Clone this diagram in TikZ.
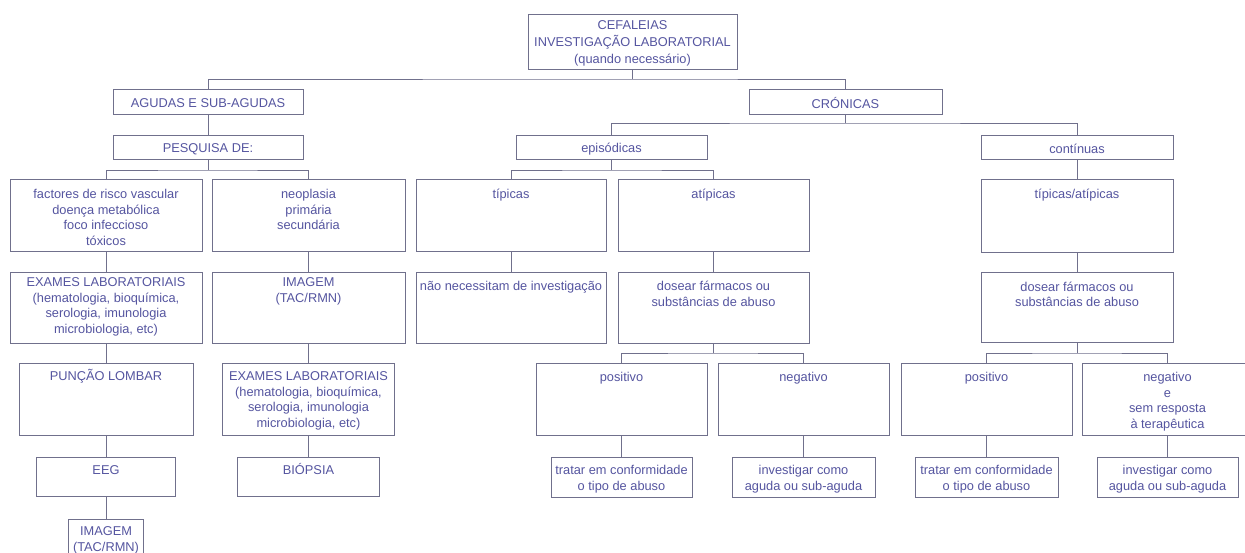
\documentclass[tikz,border=0pt]{standalone}
\usepackage{fontspec}
\setmainfont{Liberation Sans}
\definecolor{linec}{RGB}{112,112,140}
\definecolor{textc}{RGB}{85,85,160}
\begin{document}
\begin{tikzpicture}[x=1pt,y=-1pt,
  bx/.style={draw=linec, line width=0.9pt, inner sep=0pt},
  lbl/.style={anchor=north, inner sep=0pt, yshift=-8pt, text=textc,
    font=\fontsize{12.8}{15.6}\selectfont, align=center},
  ctr/.style={anchor=center, inner sep=0pt, yshift=-2pt, text=textc,
    font=\fontsize{12.8}{15.6}\selectfont, align=center},
  ln/.style={draw=linec, line width=0.9pt}]
\fill[white] (0,0) rectangle (1245,553);
\useasboundingbox (0,0) rectangle (1245,553);
\clip (0,0) rectangle (1245,553);

% ---------- boxes ----------
\node[bx, minimum width=209pt, minimum height=55pt] (top) at (632.5,41.5) {};
\node[bx, minimum width=190pt, minimum height=25pt] (agudas) at (208,101.5) {};
\node[bx, minimum width=190pt, minimum height=24pt] (pesq) at (208,147) {};
\node[bx, minimum width=192pt, minimum height=72pt] (fact) at (106,215) {};
\node[bx, minimum width=193pt, minimum height=72pt] (neo) at (308.5,215) {};
\node[bx, minimum width=192pt, minimum height=71pt] (exA) at (106,307.5) {};
\node[bx, minimum width=193pt, minimum height=71pt] (img1) at (308.5,307.5) {};
\node[bx, minimum width=174pt, minimum height=72pt] (pun) at (106,399) {};
\node[bx, minimum width=172pt, minimum height=72pt] (exB) at (308.5,399) {};
\node[bx, minimum width=139pt, minimum height=39pt] (eeg) at (106,476.5) {};
\node[bx, minimum width=142pt, minimum height=39pt] (bio) at (308.5,476.5) {};
\node[bx, minimum width=75pt, minimum height=52pt] (img2) at (106,545) {};

\node[bx, minimum width=193pt, minimum height=25pt] (cron) at (845.5,101.5) {};
\node[bx, minimum width=191pt, minimum height=24pt] (epi) at (611.5,147) {};
\node[bx, minimum width=192pt, minimum height=24pt] (cont) at (1077,147) {};
\node[bx, minimum width=190pt, minimum height=72pt] (tip) at (511,215) {};
\node[bx, minimum width=191pt, minimum height=72pt] (atip) at (713.5,215) {};
\node[bx, minimum width=192pt, minimum height=73pt] (ta) at (1077,215.5) {};
\node[bx, minimum width=190pt, minimum height=71pt] (nao) at (511,307.5) {};
\node[bx, minimum width=191pt, minimum height=71pt] (dos1) at (713.5,307.5) {};
\node[bx, minimum width=192pt, minimum height=70pt] (dos2) at (1077,307.5) {};
\node[bx, minimum width=171pt, minimum height=72pt] (pos1) at (621.5,399) {};
\node[bx, minimum width=171pt, minimum height=72pt] (neg1) at (803.5,399) {};
\node[bx, minimum width=171pt, minimum height=72pt] (pos2) at (986.5,399) {};
\node[bx, minimum width=171pt, minimum height=72pt] (neg2) at (1167.5,399) {};
\node[bx, minimum width=141pt, minimum height=40pt] (tr1) at (621.5,477) {};
\node[bx, minimum width=143pt, minimum height=40pt] (inv1) at (803.5,477) {};
\node[bx, minimum width=143pt, minimum height=40pt] (tr2) at (986.5,477) {};
\node[bx, minimum width=141pt, minimum height=40pt] (inv2) at (1167.5,477) {};

% ---------- centred texts ----------
\node[ctr, font=\fontsize{12.8}{17}\selectfont] (topT) at (top.center)
  {CEFALEIAS\\INVESTIGAÇÃO LABORATORIAL\\(quando necessário)};
\node[ctr] (agudasT) at (agudas.center) {AGUDAS E SUB-AGUDAS};
\node[ctr] (pesqT) at (pesq.center) {PESQUISA DE:};
\node[ctr] (cronT) at (cron.center) {CRÓNICAS};
\node[ctr] (epiT) at (epi.center) {episódicas};
\node[ctr] (contT) at (cont.center) {contínuas};
\node[ctr] (tr1T) at (tr1.center) {tratar em conformidade\\o tipo de abuso};
\node[ctr] (inv1T) at (inv1.center) {investigar como\\aguda ou sub-aguda};
\node[ctr] (tr2T) at (tr2.center) {tratar em conformidade\\o tipo de abuso};
\node[ctr] (inv2T) at (inv2.center) {investigar como\\aguda ou sub-aguda};

% ---------- top-aligned texts ----------
\node[lbl, yshift=-1pt] (factT) at (fact.north) {\strut factores de risco vascular\\doença metabólica\\foco infeccioso\\tóxicos};
\node[lbl, yshift=-1pt] (neoT) at (neo.north) {\strut neoplasia\\primária\\secundária};
\node[lbl, yshift=4pt] (exAT) at (exA.north) {\strut EXAMES LABORATORIAIS\\(hematologia, bioquímica,\\serologia, imunologia\\microbiologia, etc)};
\node[lbl, yshift=4pt] (img1T) at (img1.north) {\strut IMAGEM\\(TAC/RMN)};
\node[lbl, yshift=1pt] (punT) at (pun.north) {\strut PUNÇÃO LOMBAR};
\node[lbl, yshift=1pt] (exBT) at (exB.north) {\strut EXAMES LABORATORIAIS\\(hematologia, bioquímica,\\serologia, imunologia\\microbiologia, etc)};
\node[lbl, yshift=1pt] (eegT) at (eeg.north) {\strut EEG};
\node[lbl, yshift=1pt] (bioT) at (bio.north) {\strut BIÓPSIA};
\node[lbl, yshift=2pt] (img2T) at (img2.north) {\strut IMAGEM\\(TAC/RMN)};
\node[lbl, yshift=-1pt] (tipT) at (tip.north) {\strut típicas};
\node[lbl, yshift=-1pt] (atipT) at (atip.north) {\strut atípicas};
\node[lbl, yshift=-1pt] (taT) at (ta.north) {\strut típicas/atípicas};
\node[lbl] (naoT) at (nao.north) {\strut não necessitam de investigação};
\node[lbl] (dos1T) at (dos1.north) {\strut dosear fármacos ou\\substâncias de abuso};
\node[lbl] (dos2T) at (dos2.north) {\strut dosear fármacos ou\\substâncias de abuso};
\node[lbl] (pos1T) at (pos1.north) {\strut positivo};
\node[lbl] (neg1T) at (neg1.north) {\strut negativo};
\node[lbl] (pos2T) at (pos2.north) {\strut positivo};
\node[lbl] (neg2T) at (neg2.north) {\strut negativo\\e\\sem resposta\\à terapêutica};

% ---------- connectors ----------
\coordinate (j0) at (632.5,79);
\draw[ln] (top.south) -- (j0);
\draw[ln] (agudas.north) |- (j0) -| (cron.north);
\draw[ln] (agudas.south) -- (pesq.north);
\coordinate (j1) at (208,170);
\draw[ln] (pesq.south) -- (j1);
\draw[ln] (fact.north) |- (j1) -| (neo.north);
\draw[ln] (fact.south) -- (exA.north);
\draw[ln] (exA.south) -- (pun.north);
\draw[ln] (pun.south) -- (eeg.north);
\draw[ln] (eeg.south) -- (img2.north);
\draw[ln] (neo.south) -- (img1.north);
\draw[ln] (img1.south) -- (exB.north);
\draw[ln] (exB.south) -- (bio.north);

\coordinate (j2) at (845.5,123);
\draw[ln] (cron.south) -- (j2);
\draw[ln] (epi.north) |- (j2) -| (cont.north);
\coordinate (j3) at (611.5,170);
\draw[ln] (epi.south) -- (j3);
\draw[ln] (tip.north) |- (j3) -| (atip.north);
\draw[ln] (tip.south) -- (nao.north);
\draw[ln] (atip.south) -- (dos1.north);
\coordinate (j4) at (713.5,353);
\draw[ln] (dos1.south) -- (j4);
\draw[ln] (pos1.north) |- (j4) -| (neg1.north);
\draw[ln] (pos1.south) -- (tr1.north);
\draw[ln] (neg1.south) -- (inv1.north);

\draw[ln] (cont.south) -- (ta.north);
\draw[ln] (ta.south) -- (dos2.north);
\coordinate (j5) at (1077,353);
\draw[ln] (dos2.south) -- (j5);
\draw[ln] (pos2.north) |- (j5) -| (neg2.north);
\draw[ln] (pos2.south) -- (tr2.north);
\draw[ln] (neg2.south) -- (inv2.north);
\end{tikzpicture}
\end{document}
